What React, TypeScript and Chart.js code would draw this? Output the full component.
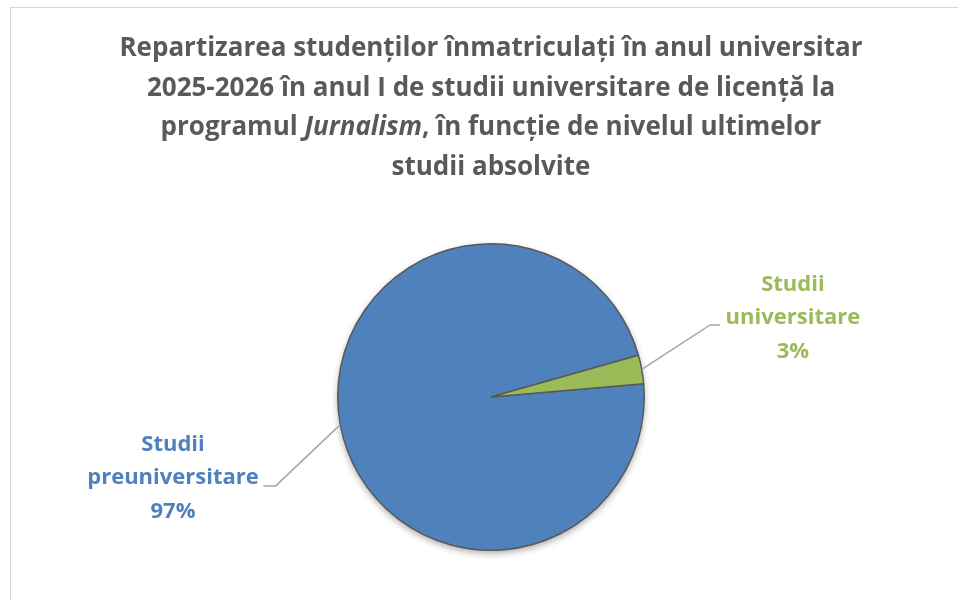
import React, { useEffect, useRef } from "react";
import { Chart, registerables } from "chart.js";

Chart.register(...registerables);

const titleLines = [
  "Repartizarea studenților înmatriculați în anul universitar",
  "2025-2026 în anul I de studii universitare de licență la",
];
const titleLine3Before = "programul ";
const titleLine3Italic = "Jurnalism";
const titleLine3After = ", în funcție de nivelul ultimelor";
const titleLine4 = "studii absolvite";

const categories = ["Studii preuniversitare", "Studii universitare"];
const labelLines = [["Studii", "preuniversitare"], ["Studii", "universitare"]];
const values = [97, 3];
const colors = ["#4F81BD", "#9BBB59"];

const FONT = "'Open Sans', Lato, sans-serif";

// label layout (relative to pie centre, in units of radius)
const labelLayout = [
  { elbowX: -1.405, elbowY: 0.58, endX: -1.485, textX: -2.075, textY: 0.53 },
  { elbowX: 1.43, elbowY: -0.47, endX: 1.495, textX: 1.97, textY: -0.516 },
];

const labelPlugin = {
  id: "pieLabels",
  beforeDatasetsDraw(chart: any) {
    const meta = chart.getDatasetMeta(0);
    const arc = meta.data[0];
    if (!arc) return;
    const ctx = chart.ctx;
    ctx.save();
    ctx.shadowColor = "rgba(0,0,0,0.35)";
    ctx.shadowBlur = 7;
    ctx.shadowOffsetY = 3;
    ctx.beginPath();
    ctx.arc(arc.x, arc.y, arc.outerRadius, 0, Math.PI * 2);
    ctx.fillStyle = colors[0];
    ctx.fill();
    ctx.restore();
  },
  afterDatasetsDraw(chart: any) {
    const meta = chart.getDatasetMeta(0);
    const ctx = chart.ctx;
    const total = values.reduce((a, b) => a + b, 0);
    meta.data.forEach((arc: any, i: number) => {
      const cx = arc.x;
      const cy = arc.y;
      const r = arc.outerRadius;
      const mid = (arc.startAngle + arc.endAngle) / 2;
      const sx = cx + Math.cos(mid) * r;
      const sy = cy + Math.sin(mid) * r;
      const L = labelLayout[i];
      ctx.save();
      ctx.strokeStyle = "#A6A6A6";
      ctx.lineWidth = 1.5;
      ctx.beginPath();
      ctx.moveTo(sx, sy);
      ctx.lineTo(cx + L.elbowX * r, cy + L.elbowY * r);
      ctx.lineTo(cx + L.endX * r, cy + L.elbowY * r);
      ctx.stroke();
      const pct = Math.round((values[i] / total) * 100) + "%";
      const lines = [...labelLines[i], pct];
      ctx.fillStyle = colors[i];
      ctx.font = "bold 22px " + FONT;
      ctx.textAlign = "center";
      ctx.textBaseline = "middle";
      const tx = cx + L.textX * r;
      const ty = cy + L.textY * r;
      lines.forEach((ln, k) => {
        ctx.fillText(ln, tx, ty + (k - 1) * 33.5);
      });
      ctx.restore();
    });
  },
};

export default function App() {
  const ref = useRef<HTMLCanvasElement | null>(null);
  useEffect(() => {
    if (!ref.current) return;
    const chart = new Chart(ref.current, {
      type: "pie",
      data: {
        labels: categories,
        datasets: [
          {
            data: values,
            backgroundColor: colors,
            borderColor: "#595959",
            borderWidth: 1.5,
          },
        ],
      },
      options: {
        animation: false,
        responsive: false,
        rotation: 85,
        layout: { padding: { top: 243, bottom: 50, left: 337, right: 313 } },
        plugins: {
          legend: { display: false },
          tooltip: { enabled: false },
          title: { display: false },
        },
      },
      plugins: [labelPlugin],
    });
    return () => chart.destroy();
  }, []);

  return (
    <div style={{ position: "absolute", left: 0, top: 0, width: 958, height: 601, overflow: "hidden", background: "#fff" }}>
      <div
        style={{
          position: "absolute",
          left: 10,
          top: 7,
          width: 980,
          height: 640,
          border: "1.5px solid #D9D9D9",
          boxSizing: "border-box",
        }}
      />
      <canvas ref={ref} width={958} height={601} style={{ position: "absolute", left: 0, top: 0 }} />
      <div
        style={{
          position: "absolute",
          left: 0,
          top: 27,
          width: 982,
          textAlign: "center",
          fontFamily: FONT,
          fontWeight: 700,
          fontSize: 26,
          lineHeight: "39.5px",
          color: "#595959",
          whiteSpace: "nowrap",
        }}
      >
        <div>{titleLines[0]}</div>
        <div>{titleLines[1]}</div>
        <div>
          {titleLine3Before}
          <i>{titleLine3Italic}</i>
          {titleLine3After}
        </div>
        <div>{titleLine4}</div>
      </div>
    </div>
  );
}
